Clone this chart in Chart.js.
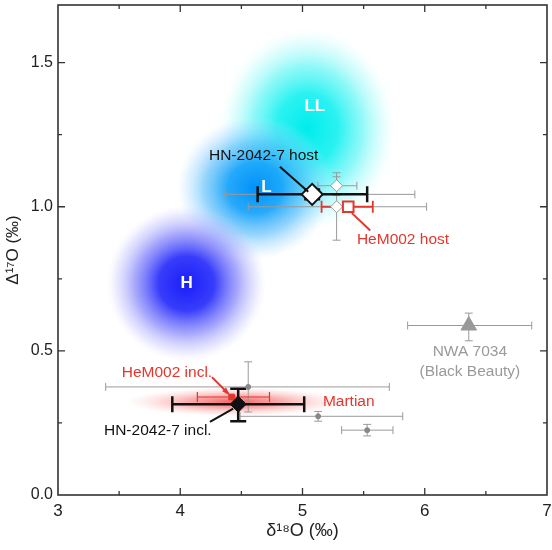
<!DOCTYPE html>
<html>
<head>
<meta charset="utf-8">
<script src="https://cdn.jsdelivr.net/npm/chart.js@4.4.1/dist/chart.umd.min.js"></script>
<style>
  html, body { margin: 0; padding: 0; background: #fff; }
  #wrap { width: 552px; height: 550px; }
</style>
</head>
<body>
<div id="wrap"><canvas id="chart"></canvas></div>
<script>
// Axis ticks
const xTickValues = [3, 4, 5, 6, 7];
const yTickValues = [0, 0.5, 1.0, 1.5];

// Measured samples (delta18O, Delta17O) with error ranges
const sampleNames = ['HN-2042-7 host', 'HN-2042-7 incl.', 'HeM002 host', 'HeM002 incl.', 'NWA 7034'];
const sampleX   = [5.079, 4.474, 5.374, 4.42, 6.36];
const sampleY   = [1.043, 0.315, 1.000, 0.340, 0.588];
const sampleXLo = [4.633, 3.935, 5.156, 4.14, 5.86];
const sampleXHi = [5.529, 5.014, 5.575, 4.73, 6.875];
const sampleYLo = [1.026, 0.256, 1.000, 0.340, 0.535];
const sampleYHi = [1.060, 0.369, 1.000, 0.340, 0.631];

// Other literature data (grey)
const litDotX   = [5.08, 4.556, 5.128, 5.529];
const litDotY   = [1.043, 0.375, 0.273, 0.225];
const litDotXLo = [4.365, 3.39, 4.49, 5.32];
const litDotXHi = [5.919, 5.71, 5.82, 5.74];
const litDotYLo = [1.043, 0.288, 0.256, 0.205];
const litDotYHi = [1.043, 0.462, 0.290, 0.245];

const litDiaX   = [5.279, 5.279];
const litDiaY   = [1.073, 1.000];
const litDiaXLo = [5.126, 4.556];
const litDiaXHi = [5.445, 6.015];
const litDiaYLo = [1.040, 0.884];
const litDiaYHi = [1.104, 1.118];

// Fields of ordinary chondrites and Martian meteorites
const regionNames = ['LL', 'L', 'H', 'Martian'];
const regionX  = [5.04, 4.61, 4.05, 4.45];
const regionY  = [1.27, 1.065, 0.734, 0.323];
const regionRx = [0.72, 0.64, 0.65, 0.90];
const regionRy = [0.35, 0.25, 0.27, 0.05];

const GREY = '#9a9a9a';
const RED = '#e3372e';
const BLACK = '#111';

const regionStops = {
  'LL': [[0, 'rgba(0,236,236,1)'], [0.35, 'rgba(20,240,240,0.9)'], [0.62, 'rgba(90,245,245,0.68)'], [0.85, 'rgba(160,250,250,0.32)'], [1, 'rgba(210,255,255,0)']],
  'L': [[0, 'rgba(0,145,250,1)'], [0.35, 'rgba(15,160,250,0.9)'], [0.65, 'rgba(80,185,250,0.6)'], [0.87, 'rgba(150,210,255,0.26)'], [1, 'rgba(200,235,255,0)']],
  'H': [[0, 'rgba(25,30,250,1)'], [0.35, 'rgba(45,50,250,0.95)'], [0.65, 'rgba(110,110,250,0.6)'], [0.87, 'rgba(170,170,252,0.28)'], [1, 'rgba(210,210,255,0)']],
  'Martian': [[0, 'rgba(240,55,55,0.8)'], [0.45, 'rgba(245,100,100,0.5)'], [0.8, 'rgba(250,160,160,0.2)'], [1, 'rgba(255,200,200,0)']]
};

// labels and leader lines, in data units
const annotations = [
  { text: 'HN-2042-7 host', x: 4.235, y: 1.176, color: BLACK, align: 'left', line: [4.815, 1.139, 5.047, 1.052] },
  { text: 'HeM002 host', x: 5.445, y: 0.884, color: RED, align: 'left', line: [5.404, 0.978, 5.554, 0.918] },
  { text: 'HeM002 incl.', x: 3.521, y: 0.4226, color: RED, align: 'left', line: [4.259, 0.409, 4.39, 0.353], arrow: true },
  { text: 'Martian', x: 5.167, y: 0.3253, color: RED, align: 'left' },
  { text: 'HN-2042-7 incl.', x: 3.376, y: 0.2247, color: BLACK, align: 'left', line: [4.243, 0.2535, 4.433, 0.300] },
  { text: 'NWA 7034', x: 6.369, y: 0.497, color: GREY, align: 'center' },
  { text: '(Black Beauty)', x: 6.369, y: 0.426, color: GREY, align: 'center' }
];

function pts(xArr, yArr) {
  return xArr.map((x, i) => ({ x: x, y: yArr[i] }));
}

function sampleSet(i, style) {
  return Object.assign({
    label: sampleNames[i],
    data: [{ x: sampleX[i], y: sampleY[i] }],
    xLo: [sampleXLo[i]], xHi: [sampleXHi[i]],
    yLo: [sampleYLo[i]], yHi: [sampleYHi[i]]
  }, style);
}

// first dataset is drawn on top by Chart.js
const datasets = [
  sampleSet(0, { pointStyle: 'rectRot', pointRadius: 10.5, backgroundColor: '#fff', borderColor: BLACK, borderWidth: 2, errColor: BLACK, errWidth: 2.5, cap: 8 }),
  sampleSet(1, { pointStyle: 'rectRot', pointRadius: 8, backgroundColor: BLACK, borderColor: BLACK, borderWidth: 1, errColor: BLACK, errWidth: 2.5, cap: 8 }),
  sampleSet(2, { pointStyle: 'rect', pointRadius: 7.5, backgroundColor: '#fff', borderColor: RED, borderWidth: 2, errColor: RED, errWidth: 1.8, cap: 6 }),
  sampleSet(3, { pointStyle: 'rect', pointRadius: 4, backgroundColor: RED, borderColor: RED, errColor: RED, errWidth: 1.2, cap: 5 }),
  sampleSet(4, { pointStyle: 'triangle', pointRadius: 9, backgroundColor: '#999', borderColor: '#999', errColor: GREY, errWidth: 1, cap: 4 }),
  {
    label: 'lit diamonds', data: pts(litDiaX, litDiaY),
    xLo: litDiaXLo, xHi: litDiaXHi, yLo: litDiaYLo, yHi: litDiaYHi,
    pointStyle: 'rectRot', pointRadius: 6, backgroundColor: '#fff', borderColor: GREY, borderWidth: 1,
    errColor: GREY, errWidth: 1, cap: 4
  },
  {
    label: 'lit dots', data: pts(litDotX, litDotY),
    xLo: litDotXLo, xHi: litDotXHi, yLo: litDotYLo, yHi: litDotYHi,
    pointStyle: 'circle', pointRadius: 2.5, backgroundColor: '#888', borderColor: '#888',
    errColor: GREY, errWidth: 1, cap: 4
  }
];

const fieldsAndErrors = {
  id: 'fieldsAndErrors',
  beforeDatasetsDraw(chart) {
    const ctx = chart.ctx, xs = chart.scales.x, ys = chart.scales.y, a = chart.chartArea;
    ctx.save();
    ctx.beginPath();
    ctx.rect(a.left, a.top, a.right - a.left, a.bottom - a.top);
    ctx.clip();

    // shaded fields
    regionNames.forEach((name, i) => {
      const cx = xs.getPixelForValue(regionX[i]);
      const cy = ys.getPixelForValue(regionY[i]);
      const rx = Math.abs(xs.getPixelForValue(regionX[i] + regionRx[i]) - cx);
      const ry = Math.abs(ys.getPixelForValue(regionY[i] + regionRy[i]) - cy);
      ctx.save();
      ctx.translate(cx, cy);
      ctx.scale(1, ry / rx);
      const g = ctx.createRadialGradient(0, 0, 0, 0, 0, rx);
      regionStops[name].forEach(s => g.addColorStop(s[0], s[1]));
      ctx.fillStyle = g;
      ctx.beginPath();
      ctx.arc(0, 0, rx, 0, Math.PI * 2);
      ctx.fill();
      ctx.restore();
    });

    // field labels
    ctx.fillStyle = '#fff';
    ctx.font = 'bold 17px "Liberation Sans", Arial, sans-serif';
    ctx.textAlign = 'center';
    ctx.textBaseline = 'middle';
    const fieldLabelPos = { 'LL': [5.101, 1.35], 'L': [4.706, 1.069], 'H': [4.052, 0.734] };
    Object.keys(fieldLabelPos).forEach(k => {
      ctx.fillText(k, xs.getPixelForValue(fieldLabelPos[k][0]), ys.getPixelForValue(fieldLabelPos[k][1]));
    });

    // error bars, bottom datasets first
    chart.data.datasets.slice().reverse().forEach(ds => {
      if (!ds.xLo) return;
      ctx.strokeStyle = ds.errColor;
      ctx.lineWidth = ds.errWidth;
      ds.data.forEach((p, j) => {
        const x = xs.getPixelForValue(p.x), y = ys.getPixelForValue(p.y);
        const x0 = xs.getPixelForValue(ds.xLo[j]), x1 = xs.getPixelForValue(ds.xHi[j]);
        const y0 = ys.getPixelForValue(ds.yLo[j]), y1 = ys.getPixelForValue(ds.yHi[j]);
        const c = ds.cap;
        ctx.beginPath();
        if (x1 - x0 > 1) {
          ctx.moveTo(x0, y); ctx.lineTo(x1, y);
          ctx.moveTo(x0, y - c); ctx.lineTo(x0, y + c);
          ctx.moveTo(x1, y - c); ctx.lineTo(x1, y + c);
        }
        if (y0 - y1 > 1) {
          ctx.moveTo(x, y0); ctx.lineTo(x, y1);
          ctx.moveTo(x - c, y0); ctx.lineTo(x + c, y0);
          ctx.moveTo(x - c, y1); ctx.lineTo(x + c, y1);
        }
        ctx.stroke();
      });
    });
    ctx.restore();
  },
  afterDatasetsDraw(chart) {
    const ctx = chart.ctx, xs = chart.scales.x, ys = chart.scales.y;
    ctx.save();
    ctx.font = '15.5px "Liberation Sans", Arial, sans-serif';
    ctx.textBaseline = 'middle';
    annotations.forEach(an => {
      ctx.fillStyle = an.color;
      ctx.textAlign = an.align;
      ctx.fillText(an.text, xs.getPixelForValue(an.x), ys.getPixelForValue(an.y));
      if (an.line) {
        const xa = xs.getPixelForValue(an.line[0]), ya = ys.getPixelForValue(an.line[1]);
        const xb = xs.getPixelForValue(an.line[2]), yb = ys.getPixelForValue(an.line[3]);
        ctx.strokeStyle = an.color;
        ctx.lineWidth = 2;
        ctx.beginPath();
        ctx.moveTo(xa, ya);
        ctx.lineTo(xb, yb);
        ctx.stroke();
        if (an.arrow) {
          const ang = Math.atan2(yb - ya, xb - xa);
          ctx.fillStyle = an.color;
          ctx.beginPath();
          ctx.moveTo(xb + 3 * Math.cos(ang), yb + 3 * Math.sin(ang));
          ctx.lineTo(xb - 6 * Math.cos(ang - 0.45), yb - 6 * Math.sin(ang - 0.45));
          ctx.lineTo(xb - 6 * Math.cos(ang + 0.45), yb - 6 * Math.sin(ang + 0.45));
          ctx.closePath();
          ctx.fill();
        }
      }
    });
    ctx.restore();
  },
  afterDraw(chart) {
    // frame with inward ticks on all four sides
    const ctx = chart.ctx, xs = chart.scales.x, ys = chart.scales.y, a = chart.chartArea;
    ctx.save();
    ctx.strokeStyle = '#333';
    ctx.lineWidth = 1.3;
    ctx.beginPath();
    for (let v = 3.5; v < 7; v += 0.5) {
      const p = xs.getPixelForValue(v);
      const len = Number.isInteger(v) ? 7 : 4;
      ctx.moveTo(p, a.bottom); ctx.lineTo(p, a.bottom - len);
      ctx.moveTo(p, a.top); ctx.lineTo(p, a.top + len);
    }
    for (let v = 0.25; v < 1.7; v += 0.25) {
      const p = ys.getPixelForValue(v);
      const len = (Math.round(v * 100) % 50 === 0) ? 7 : 4;
      ctx.moveTo(a.left, p); ctx.lineTo(a.left + len, p);
      ctx.moveTo(a.right, p); ctx.lineTo(a.right - len, p);
    }
    ctx.stroke();
    ctx.lineWidth = 1.6;
    ctx.strokeRect(a.left, a.top, a.right - a.left, a.bottom - a.top);
    ctx.restore();
  }
};

const fontFamily = '"Liberation Sans", Arial, sans-serif';

new Chart(document.getElementById('chart').getContext('2d'), {
  type: 'scatter',
  data: { datasets: datasets },
  options: {
    responsive: true,
    maintainAspectRatio: false,
    animation: false,
    layout: { autoPadding: false, padding: { top: 5, right: 5, left: 0, bottom: 0 } },
    plugins: { legend: { display: false }, tooltip: { enabled: false } },
    elements: { point: { hoverRadius: 0 } },
    scales: {
      x: {
        type: 'linear', min: 3, max: 7,
        grid: { display: false, drawTicks: false },
        border: { display: false },
        afterBuildTicks: (scale) => { scale.ticks = xTickValues.map(v => ({ value: v })); },
        afterFit: (scale) => { scale.height = 55; scale.paddingLeft = 0; scale.paddingRight = 0; },
        ticks: { color: '#222', font: { family: fontFamily, size: 17 }, padding: 6, callback: (v) => String(v) },
        title: { display: true, text: 'δ¹⁸O (‰)', color: '#222', font: { family: fontFamily, size: 18 }, padding: { top: 0, bottom: 8 } }
      },
      y: {
        type: 'linear', min: 0, max: 1.7,
        grid: { display: false, drawTicks: false },
        border: { display: false },
        afterBuildTicks: (scale) => { scale.ticks = yTickValues.map(v => ({ value: v })); },
        afterFit: (scale) => { scale.width = 58; scale.paddingTop = 0; scale.paddingBottom = 0; },
        ticks: { color: '#222', font: { family: fontFamily, size: 16 }, padding: 5, callback: (v) => v.toFixed(1) },
        title: { display: true, text: 'Δ¹⁷O (‰)', color: '#222', font: { family: fontFamily, size: 17 }, padding: { top: 3, bottom: 0 } }
      }
    }
  },
  plugins: [fieldsAndErrors]
});
</script>
</body>
</html>
